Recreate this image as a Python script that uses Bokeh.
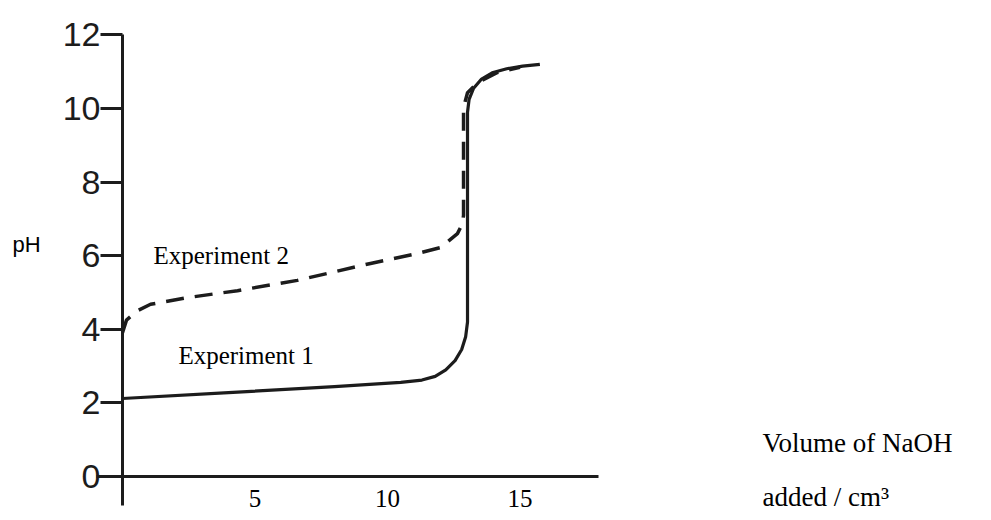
from bokeh.plotting import figure
from bokeh.models import Range1d, LinearAxis, FixedTicker, Label
from bokeh.embed import file_html
from bokeh.resources import INLINE

# ---- data ----
y_ticks = [0, 2, 4, 6, 8, 10, 12]
x_ticks = [5, 10, 15]

exp1_vol = [0, 4, 8, 10.5, 11.3, 11.8, 12.2, 12.55, 12.8, 12.95, 13.02, 13.02,
            13.08, 13.25, 13.55, 13.95, 14.5, 15.1, 15.75]
exp1_ph = [2.12, 2.28, 2.44, 2.56, 2.62, 2.72, 2.9, 3.15, 3.45, 3.8, 4.2, 9.9,
           10.25, 10.55, 10.8, 10.97, 11.08, 11.15, 11.2]

exp2_vol = [0, 0.15, 0.55, 1.06, 2.45, 4.34, 6.6, 9.36, 11.13, 12.0, 12.64, 12.83,
            12.87, 12.87, 13.02, 13.4, 14.15, 15.0]
exp2_ph = [3.91, 4.25, 4.5, 4.68, 4.86, 5.05, 5.33, 5.79, 6.06, 6.22, 6.6, 6.87,
           7.1, 10.03, 10.43, 10.7, 10.98, 11.12]

INK = "#1c1c1c"

p = figure(width=975, height=520,
           x_range=Range1d(-4.604, 32.19), y_range=Range1d(-1.196, 12.935),
           x_axis_type=None, y_axis_type=None,
           output_backend="svg", toolbar_location=None,
           min_border=0, outline_line_color=None)

# y axis
yax = LinearAxis(ticker=FixedTicker(ticks=y_ticks), fixed_location=0,
                 bounds=(-0.8, 12))
yax.axis_line_width = 3
yax.axis_line_color = INK
yax.major_tick_line_width = 3
yax.major_tick_line_color = INK
yax.major_tick_out = 22
yax.major_tick_in = 0
yax.minor_tick_out = 0
yax.minor_tick_in = 0
yax.major_label_standoff = 0
yax.major_label_text_font = "Liberation Sans"
yax.major_label_text_font_size = "34px"
yax.major_label_text_color = INK
p.add_layout(yax, "left")

# x axis
xax = LinearAxis(ticker=FixedTicker(ticks=x_ticks), fixed_location=0,
                 bounds=(-1.0, 17.95))
xax.axis_line_width = 3
xax.axis_line_color = INK
xax.major_tick_out = 0
xax.major_tick_in = 0
xax.minor_tick_out = 0
xax.minor_tick_in = 0
xax.major_label_standoff = 14
xax.major_label_text_font = "Liberation Serif"
xax.major_label_text_font_size = "25px"
xax.major_label_text_color = "black"
p.add_layout(xax, "below")

# curves
p.line(exp1_vol, exp1_ph, line_color=INK, line_width=3.2, line_join="round")
p.line(exp2_vol, exp2_ph, line_color=INK, line_width=3.5, line_dash="18 11")

# texts
def lab(x, y, t, font, size):
    p.add_layout(Label(x=x, y=y, text=t, text_font=font, text_font_size=size,
                       text_color="black", text_baseline="alphabetic",
                       text_align="left"))

lab(1.17, 6.0, "Experiment 2", "Liberation Serif", "25px")
lab(2.11, 3.29, "Experiment 1", "Liberation Serif", "25px")
lab(24.15, 0.9, "Volume of NaOH", "Liberation Serif", "27px")
lab(24.15, -0.57, "added / cm³", "Liberation Serif", "27px")
lab(-4.15, 6.31, "pH", "Liberation Sans", "22px")

open("out.html", "w").write(file_html(p, INLINE))
